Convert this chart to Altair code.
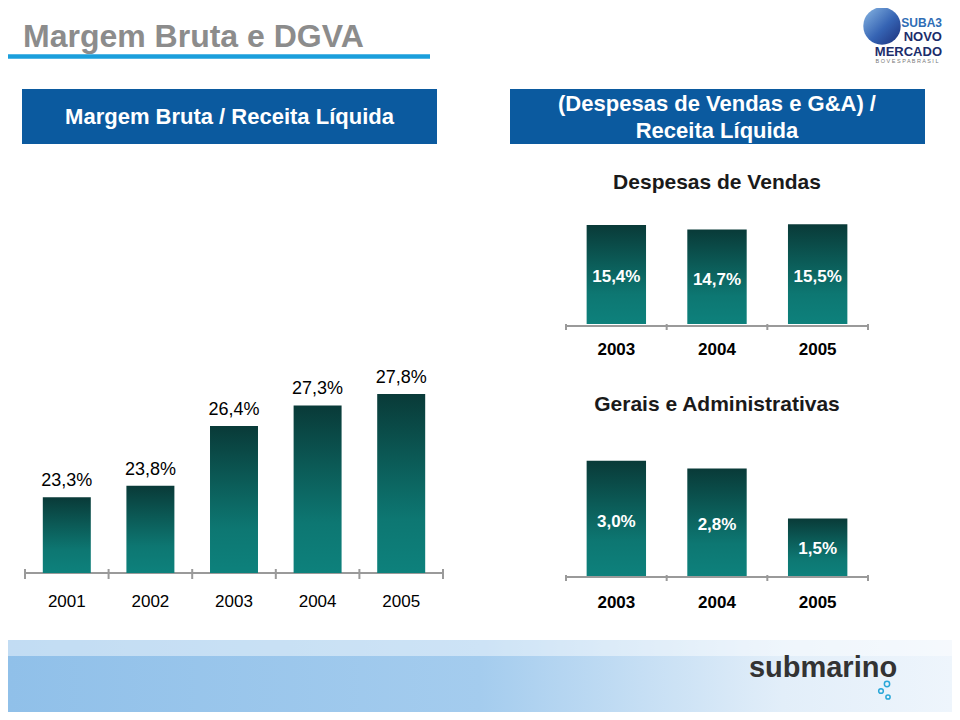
import altair as alt
import pandas as pd

# ---------------- data ----------------
mb_years = ["2001", "2002", "2003", "2004", "2005"]
mb_values = [23.3, 23.8, 26.4, 27.3, 27.8]
mb_labels = ["23,3%", "23,8%", "26,4%", "27,3%", "27,8%"]

dv_years = ["2003", "2004", "2005"]
dv_values = [15.4, 14.7, 15.5]
dv_labels = ["15,4%", "14,7%", "15,5%"]

ga_years = ["2003", "2004", "2005"]
ga_values = [3.0, 2.8, 1.5]
ga_labels = ["3,0%", "2,8%", "1,5%"]

page_title = "Margem Bruta e DGVA"
left_header = "Margem Bruta / Receita Líquida"
right_header = ["(Despesas de Vendas e G&A) /", "Receita Líquida"]
dv_title = "Despesas de Vendas"
ga_title = "Gerais e Administrativas"

# ---------------- styling ----------------
W, H = 944, 704
FONT = "Liberation Sans"
BLUE_BOX = "#0b5a9f"
AXIS_GRAY = "#9a9a9a"

bar_grad = alt.Gradient(
    gradient="linear",
    stops=[
        alt.GradientStop(color="#093a38", offset=0),
        alt.GradientStop(color="#0b5955", offset=0.35),
        alt.GradientStop(color="#0d7772", offset=0.7),
        alt.GradientStop(color="#0d817c", offset=1),
    ],
    x1=0, x2=0, y1=0, y2=1,
)

one = pd.DataFrame({"k": [0]})


def deco_text(txt, x, y, size, color, weight="normal", align="center", baseline="middle", font=FONT):
    return alt.Chart(one).mark_text(
        font=font, fontSize=size, fontWeight=weight, color=color,
        align=align, baseline=baseline,
    ).encode(x=alt.value(x), y=alt.value(y), text=alt.value(txt))


def deco_rect(x, x2, y, y2, color):
    return alt.Chart(one).mark_rect(color=color).encode(
        x=alt.value(x), x2=alt.value(x2), y=alt.value(y), y2=alt.value(y2))


def deco_circle(x, y, size, color, filled=False, fill=None):
    kw = dict(shape="circle", filled=filled, opacity=1, size=size)
    if filled:
        kw.update(fill=fill if fill is not None else color, strokeWidth=0)
    else:
        kw.update(color=color, strokeWidth=1.5)
    return alt.Chart(one).mark_point(**kw).encode(x=alt.value(x), y=alt.value(y))


def bar_panel(years, values, labels, x_range, pad_inner, y_domain, y_range,
              axis_y, tick_up, tick_down, year_y, year_bold, inside):
    df = pd.DataFrame({"year": years, "value": values, "label": labels})
    step = (x_range[1] - x_range[0]) / len(years)
    xscale = alt.Scale(range=x_range, paddingInner=pad_inner, paddingOuter=pad_inner / 2)
    yscale = alt.Scale(domain=y_domain, range=y_range, zero=False, nice=False)
    xenc = alt.X("year:N", sort=None, scale=xscale, axis=None)

    bars = alt.Chart(df).mark_bar(color=bar_grad).encode(
        x=xenc,
        y=alt.Y("value:Q", scale=yscale, axis=None),
        y2=alt.datum(y_domain[0]),
    )
    if inside:
        txt = alt.Chart(df).transform_calculate(pos="datum.value * 0.47").mark_text(
            font=FONT, fontSize=17, fontWeight="bold", color="white", baseline="middle",
        ).encode(
            x=xenc,
            y=alt.Y("pos:Q", scale=yscale, axis=None),
            text="label:N",
        )
    else:
        txt = alt.Chart(df).mark_text(
            font=FONT, fontSize=18, color="#000000", baseline="alphabetic", dy=-11,
        ).encode(
            x=xenc,
            y=alt.Y("value:Q", scale=yscale, axis=None),
            text="label:N",
        )
    # axis drawn with marks
    base_line = alt.Chart(one).mark_rule(color=AXIS_GRAY, strokeWidth=2).encode(
        x=alt.value(x_range[0]), x2=alt.value(x_range[1]), y=alt.value(axis_y))
    ticks = alt.Chart(df).mark_rule(
        color=AXIS_GRAY, strokeWidth=2, xOffset=-step * pad_inner / 2,
    ).encode(
        x=alt.X("year:N", sort=None, scale=xscale, axis=None, bandPosition=0),
        y=alt.value(axis_y - tick_up), y2=alt.value(axis_y + tick_down),
    )
    end_tick = alt.Chart(one).mark_rule(color=AXIS_GRAY, strokeWidth=2).encode(
        x=alt.value(x_range[1]), y=alt.value(axis_y - tick_up), y2=alt.value(axis_y + tick_down))
    years_txt = alt.Chart(df).mark_text(
        font=FONT, fontSize=17, fontWeight="bold" if year_bold else "normal",
        color="#000000", baseline="middle",
    ).encode(x=xenc, y=alt.value(year_y), text="year:N")
    return alt.layer(base_line, ticks, end_tick, bars, txt, years_txt)


left = bar_panel(mb_years, mb_values, mb_labels, [17, 435], 0.426,
                 [20, 30], [565, 335.4], 565, 4, 6, 594, False, False)
dv = bar_panel(dv_years, dv_values, dv_labels, [558, 860], 0.41,
               [0, 20], [316, 187.4], 318, 2, 4, 342, True, True)
ga = bar_panel(ga_years, ga_values, ga_labels, [558, 860], 0.41,
               [0, 4], [568, 414.4], 569, 2, 4, 595, True, True)

# background water band at the bottom
water_grad = alt.Gradient(
    gradient="linear",
    stops=[
        alt.GradientStop(color="#90c0e9", offset=0),
        alt.GradientStop(color="#a4ccee", offset=0.5),
        alt.GradientStop(color="#e2eef9", offset=0.82),
        alt.GradientStop(color="#eef5fc", offset=1),
    ],
    x1=0, x2=1, y1=0, y2=0,
)
water = alt.Chart(one).mark_rect(color=water_grad).encode(
    x=alt.value(0), x2=alt.value(W), y=alt.value(632), y2=alt.value(H))
water_top = alt.Chart(one).mark_rect(color="#ffffff", opacity=0.45).encode(
    x=alt.value(0), x2=alt.value(W), y=alt.value(632), y2=alt.value(648))

underline = alt.Chart(one).mark_rule(color="#1b9fdc", strokeWidth=4.5).encode(
    x=alt.value(0), x2=alt.value(422), y=alt.value(48.5))

globe_grad = alt.Gradient(
    gradient="linear",
    stops=[
        alt.GradientStop(color="#8ab8e4", offset=0),
        alt.GradientStop(color="#3563b3", offset=0.55),
        alt.GradientStop(color="#1b2f7a", offset=1),
    ],
    x1=0, x2=1, y1=0, y2=1,
)

layers = [
    water, water_top,
    deco_text(page_title, 15, 39, 32, "#8c8c8c", "bold", "left", "alphabetic"),
    underline,
    deco_rect(14, 429, 81, 136, BLUE_BOX),
    deco_rect(502, 917, 81, 136, BLUE_BOX),
    deco_text(left_header, 221.5, 109, 22, "white", "bold"),
    deco_text(right_header[0], 709, 96, 22, "white", "bold"),
    deco_text(right_header[1], 709, 123, 22, "white", "bold"),
    deco_text(dv_title, 709, 175, 21, "#1a1a1a", "bold"),
    deco_text(ga_title, 709, 397, 21, "#1a1a1a", "bold"),
    deco_circle(874, 18, 1400, None, filled=True, fill=globe_grad),
    deco_text("SUBA3", 934, 15, 12, "#2f6db5", "bold", "right"),
    deco_text("NOVO", 934, 29, 13, "#1c2d6b", "bold", "right"),
    deco_text("MERCADO", 934, 43.5, 13, "#1c2d6b", "bold", "right"),
    deco_text("B O V E S P A    B R A S I L", 899, 53, 5.5, "#777777", "normal", "center"),
    deco_text("submarino", 815, 660, 29, "#333333", "bold"),
    deco_circle(879, 676, 28, "#2aa7d8"),
    deco_circle(873, 683, 22, "#2aa7d8"),
    deco_circle(880, 689, 18, "#2aa7d8"),
    left, dv, ga,
]

chart = alt.layer(*layers).resolve_scale(x="independent", y="independent").properties(
    width=W, height=H, autosize=alt.AutoSizeParams(type="none"), padding=0,
).configure_view(stroke=None)

chart.save("out.html", embed_options={"renderer": "svg", "actions": False})
